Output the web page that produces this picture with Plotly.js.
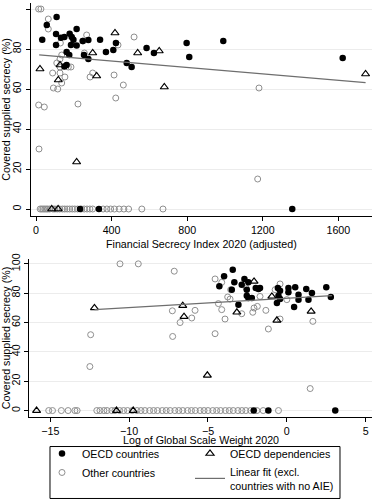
<!DOCTYPE html>
<html>
<head>
<meta charset="utf-8">
<script src="https://cdn.plot.ly/plotly-3.0.1.min.js"></script>
<style>html,body{margin:0;padding:0;background:#fff;}#chart{width:373px;height:500px;}</style>
</head>
<body>
<div id="chart"></div>
<script>
// ---- Top panel: Financial Secrecy Index 2020 (adjusted) ----
const oecdFsiX = [109,57,33,106,132,150,178,189,215,198,106,185,215,247,277,339,162,176,254,277,162,150,370,409,423,480,506,585,624,797,811,991,1623,233,333,1356];
const oecdFsiY = [96,92,84.6,87.5,85.6,86,87.6,86,90,84.6,82,82,81.8,84,84.5,84.6,78.5,77,77,75,72,71.3,78.5,79.5,83,73,71,80.5,78,83,76,84,75.5,0,0,0];

const depFsiX = [21,418,127,300,538,652,118,321,679,1744,215,83,117];
const depFsiY = [70,88,72,78,78,79,64.5,66.5,61,67.5,23.5,0,0];

const otherFsiX = [14,26,65,65,268,519,129,249,434,256,136,127,110,127,171,185,88,127,300,413,153,286,136,92,115,462,422,14,44,222,1180,16,1173,
  22,30,38,46,54,62,72,90,100,112,125,140,152,165,178,192,205,220,240,255,270,285,300,355,375,395,415,440,465,490,560,672];
const otherFsiY = [100,100,95,90,87,86,83,84,82,78,77,75,73,71,71,71,68,68,68,67,66,66,63,60.5,60,62,55.5,52,51,52.5,60.5,30,15,
  0,0,0,0,0,0,0,0,0,0,0,0,0,0,0,0,0,0,0,0,0,0,0,0,0,0,0,0,0,0,0,0];

const fitFsiX = [17,1744];
const fitFsiY = [77.1,63.2];

// ---- Bottom panel: Log of Global Scale Weight 2020 ----
const oecdGswX = [-3.43,-3.98,-3.33,-4.28,-3.49,-2.69,-2.44,-2.86,-1.97,-1.7,-2.54,-2.44,-2.22,-3.07,-0.57,-0.43,0.1,0.53,1.23,1.59,2.5,2.79,0.74,0.1,1.37,0.74,-0.63,0.46,-0.53,-0.43,-1.8,-2.54,-1.17,3.07,-2.1];
const oecdGswY = [96,91.5,87.4,84.7,82.4,89.7,87.4,85.8,83.5,83.5,78.3,76.7,76.7,72.2,83.5,81.7,83.5,84,82.9,80.1,84,77.4,79,80.6,75.6,75.6,73.3,70.6,78.3,76,82.9,82.4,0,0,0];

const depGswX = [-12.2,-2.08,-6.6,-6.52,-3.17,-0.95,-0.63,1.54,-5.04,-15.87,-10.8,-9.74];
const depGswY = [70,88,71.5,64,67,77.8,61.5,67.6,24,0,0,0];

const otherGswX = [-10.58,-9.42,-7.14,-4.55,-4.13,-3.56,-3.75,-3.6,-2.58,-1.7,-0.43,-0.74,0,-4.34,-5.82,-6.03,-6.77,-4.13,-3.92,-2.86,-2.16,-2.08,-1.87,-1.33,-0.43,1.65,-1.17,-4.55,-7.26,-12.44,-7.24,-12.49,1.48,
  -15.1,-14.86,-14.3,-13.87,-13.44,-13.3,-12.05,-11.85,-11.6,-11.4,-11.1,-10.9,-10.6,-10.35,-10.1,-9.8,-9.5,-9.25,-9.0,-8.7,-8.45,-8.2,-7.9,-7.65,-7.4,-7.1,-6.85,-6.6,-6.3,-6.05,-5.8,-5.5,-5.25,-5.0,-4.7,-4.45,-4.2,-3.9,-3.65,-3.4,-3.1,-2.85,-2.6,-2.3,-1.9,-1.5,-0.53];
const otherGswY = [100,100,95,89.7,87.4,82.4,77.4,76,83.5,77.8,86.3,82.4,75.6,72.9,68.3,63.1,60,68.8,62.4,66,67,69.9,71,68.3,62.4,60.8,55.6,52.4,68,51.7,50.5,30,15,
  0,0,0,0,0,0,0,0,0,0,0,0,0,0,0,0,0,0,0,0,0,0,0,0,0,0,0,0,0,0,0,0,0,0,0,0,0,0,0,0,0,0,0,0,0,0,0,0];

const fitGswX = [-12.2,2.86];
const fitGswY = [68.8,78.3];

const yTicks = [0,20,40,60,80,100];
const fsiTicks = [0,400,800,1200,1600];
const gswTicks = [-15,-10,-5,0,5];
const gswTickText = ['\u221215','\u221210','\u22125','0','5'];

const FONT = 'Liberation Sans, Arial, sans-serif';
const FS = 10.7;

const styleOECD = {symbol:'circle', size:6.5, color:'#000', line:{width:0}};
const styleDep = {symbol:'triangle-up-open', size:7, color:'#000', line:{width:1.2, color:'#000'}};
const styleOther = {symbol:'circle-open', size:6, color:'#8f8f8f', line:{width:1, color:'#8f8f8f'}};
const styleFit = {color:'#6e6e6e', width:1.2};

const traces = [
  {x:otherFsiX, y:otherFsiY, xaxis:'x', yaxis:'y', mode:'markers', type:'scatter', name:'Other countries', marker:styleOther,
    legend:'legend', legendrank:2, legendgroup:'g2'},
  {x:oecdFsiX, y:oecdFsiY, xaxis:'x', yaxis:'y', mode:'markers', type:'scatter', name:'OECD countries', marker:styleOECD,
    legend:'legend', legendrank:1, legendgroup:'g1'},
  {x:depFsiX, y:depFsiY, xaxis:'x', yaxis:'y', mode:'markers', type:'scatter', name:'OECD dependencies', marker:styleDep,
    legend:'legend2', legendrank:1, legendgroup:'g3'},
  {x:fitFsiX, y:fitFsiY, xaxis:'x', yaxis:'y', mode:'lines', type:'scatter', name:'Linear fit (excl.<br>countries with no AIE)', line:styleFit,
    legend:'legend2', legendrank:2, legendgroup:'g4'},
  {x:otherGswX, y:otherGswY, xaxis:'x2', yaxis:'y2', mode:'markers', type:'scatter', marker:styleOther, showlegend:false},
  {x:oecdGswX, y:oecdGswY, xaxis:'x2', yaxis:'y2', mode:'markers', type:'scatter', marker:styleOECD, showlegend:false},
  {x:depGswX, y:depGswY, xaxis:'x2', yaxis:'y2', mode:'markers', type:'scatter', marker:styleDep, showlegend:false},
  {x:fitGswX, y:fitGswY, xaxis:'x2', yaxis:'y2', mode:'lines', type:'scatter', line:styleFit, showlegend:false}
];

const axBase = {showline:true, linecolor:'#000', linewidth:1, ticks:'outside', ticklen:4, tickcolor:'#000', tickwidth:1,
  zeroline:false, tickfont:{family:FONT, size:FS, color:'#000'}, fixedrange:true};

const legendBase = {orientation:'v', xanchor:'left', yanchor:'top', borderwidth:0, bgcolor:'rgba(0,0,0,0)',
  font:{family:FONT, size:FS, color:'#000'}, traceorder:'normal', itemclick:false, itemdoubleclick:false};

const titleFont = {family:FONT, size:FS, color:'#000'};

const layout = {
  width:373, height:500,
  margin:{l:29, r:1, t:3, b:83},
  paper_bgcolor:'#fff', plot_bgcolor:'#fff',
  font:{family:FONT, size:FS, color:'#000'},
  xaxis:Object.assign({}, axBase, {domain:[0.005,1], anchor:'y', range:[-28,1778], tickvals:fsiTicks, showgrid:false}),
  yaxis:Object.assign({}, axBase, {domain:[0.4855,1], anchor:'x', range:[-3.5,103], tickvals:yTicks, tickangle:-90,
    showgrid:true, gridcolor:'#ececec', gridwidth:1,
    title:{text:'Covered supplied secrecy (%)', font:titleFont, standoff:2}}),
  xaxis2:Object.assign({}, axBase, {domain:[0,1], anchor:'y2', range:[-16.35,5.4], tickvals:gswTicks, ticktext:gswTickText, showgrid:false}),
  yaxis2:Object.assign({}, axBase, {domain:[0,0.3816], anchor:'x2', range:[-4.4,103.3], tickvals:yTicks, tickangle:-90,
    showgrid:true, gridcolor:'#ececec', gridwidth:1,
    title:{text:'Covered supplied secrecy (%)', font:titleFont, standoff:2}}),
  annotations:[
    {text:'Financial Secrecy Index 2020 (adjusted)', xref:'paper', yref:'paper', x:0.503, y:0.4179,
      xanchor:'center', yanchor:'middle', showarrow:false, font:titleFont},
    {text:'Log of Global Scale Weight 2020', xref:'paper', yref:'paper', x:0.501, y:-0.0556,
      xanchor:'center', yanchor:'middle', showarrow:false, font:titleFont}
  ],
  showlegend:true,
  legend:Object.assign({}, legendBase, {x:0.0379, y:-0.0531, tracegroupgap:6}),
  legend2:Object.assign({}, legendBase, {x:0.4694, y:-0.0531, tracegroupgap:0}),
  shapes:[
    {type:'rect', xref:'paper', yref:'paper', x0:0.0612, x1:0.9067, y0:-0.1968, y1:-0.0713,
      line:{color:'#000', width:1}, fillcolor:'rgba(0,0,0,0)', layer:'above'}
  ]
};

Plotly.newPlot('chart', traces, layout, {displayModeBar:false, staticPlot:true});
</script>
</body>
</html>
